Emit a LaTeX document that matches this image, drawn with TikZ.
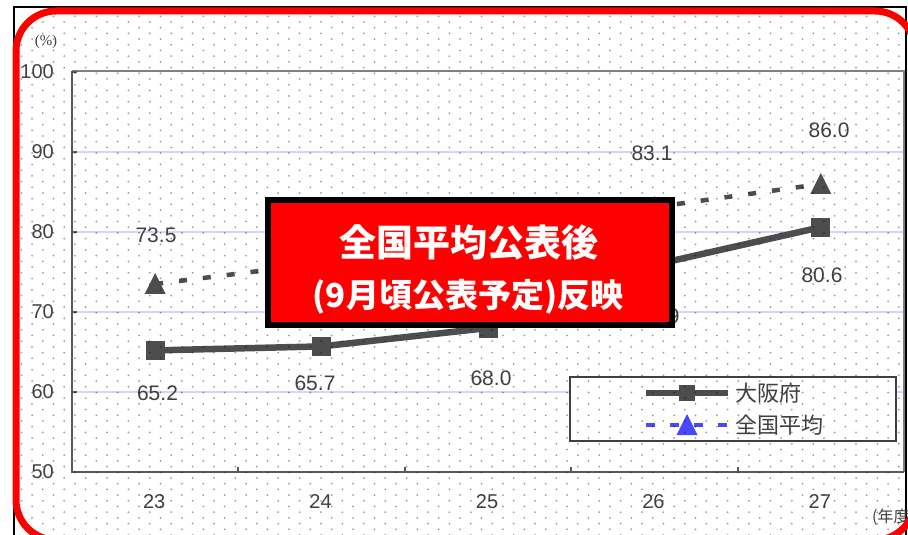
\documentclass[tikz,border=0pt]{standalone}
\usepackage{fontspec}
\setmainfont{Liberation Sans}
\newfontfamily\cjk{Noto Sans CJK JP}
\newfontfamily\serifnum{Liberation Serif}
\usetikzlibrary{patterns}
\pgfdeclarepatternformonly{chartdots}{\pgfqpoint{-1.2bp}{-1.2bp}}{\pgfqpoint{20.2bp}{10.2bp}}{\pgfqpoint{21.4bp}{11.4bp}}{%
  \pgfpathcircle{\pgfqpoint{0bp}{0bp}}{1bp}%
  \pgfpathcircle{\pgfqpoint{10.7bp}{5.7bp}}{1bp}%
  \pgfusepath{fill}}
\begin{document}
\begin{tikzpicture}[x=1bp,y=-1bp,
  gridline/.style={draw=gridblue, line width=1.2bp},
  axisline/.style={draw=axisgray, line width=2bp},
  axislabel/.style={text=txtgray, inner sep=0pt, font=\fontsize{20bp}{20bp}\selectfont},
  datalabel/.style={text=txtgray, inner sep=0pt, font=\fontsize{21bp}{21bp}\selectfont},
  osakaline/.style={draw=sergray, line width=6.5bp},
  nationline/.style={draw=sergray, line width=4.5bp, dash pattern=on 8bp off 16bp},
  sqmark/.style={fill=sergray, inner sep=0pt, minimum size=19bp},
  legendtext/.style={text=txtgray, anchor=west, inner sep=0pt, font=\cjk\fontsize{22bp}{22bp}\selectfont},
  boxtext/.style={text=white, inner sep=0pt}]
\definecolor{sergray}{HTML}{4D4D4D}
\definecolor{txtgray}{HTML}{404040}
\definecolor{axisgray}{HTML}{595959}
\definecolor{gridblue}{HTML}{D4D4FF}
\definecolor{legblue}{HTML}{4848FF}
\clip (0,0) rectangle (908,535);
\draw[black, line width=1.2bp] (14,7) rectangle (906,600);
\pgfmathsetmacro\colw{166.4}
\foreach \v in {60,70,80,90} \draw[gridline] (72,{472-(\v-50)*8}) -- (904,{472-(\v-50)*8});
\draw[draw=gray, line width=1.5bp] (72,71) -- (904,71) -- (904,472);
\draw[axisline] (72,71) -- (72,472) -- (904,472);
\foreach \v in {50,60,...,100} {
  \draw[axisline] (72,{472-(\v-50)*8}) -- (77,{472-(\v-50)*8});
  \node[axislabel, anchor=east] (tick\v) at (54,{472-(\v-50)*8}) {\v};
}
\foreach \i in {1,...,4} \draw[axisline] ({72+\colw*\i},472) -- ({72+\colw*\i},467);
\foreach \yr [count=\i from 0] in {23,...,27} \node[axislabel] (yr\yr) at ({72+\colw*(\i+0.5)-1},502) {\yr};
\node[text=txtgray, font=\serifnum\fontsize{15bp}{15bp}\selectfont] (unit) at (46,42) {(\%)};
\node[text=txtgray, anchor=west, inner sep=0pt, font=\cjk\fontsize{16bp}{16bp}\selectfont] (unitx) at (872,517) {(年度)};
\foreach \v [count=\i from 0] in {65.2,65.7,68.0,75.9,80.6} \coordinate (os\i) at ({72+\colw*(\i+0.5)},{472-(\v-50)*8});
\foreach \v [count=\i from 0] in {73.5,76.1,79.0,83.1,86.0} \coordinate (na\i) at ({72+\colw*(\i+0.5)},{472-(\v-50)*8});
\draw[nationline] (na0) -- (na1) -- (na2) -- (na3) -- (na4);
\foreach \i in {0,...,4} \fill[sergray] ([yshift=11bp]na\i) -- ([xshift=10.5bp,yshift=-10bp]na\i) -- ([xshift=-10.5bp,yshift=-10bp]na\i) -- cycle;
\draw[osakaline] (os0) -- (os1) -- (os2) -- (os3) -- (os4);
\foreach \i in {0,...,4} \node[sqmark] (osmark\i) at (os\i) {};
\foreach \x/\y/\t [count=\i] in {157.5/393/65.2, 315/383/65.7, 491/378/68.0, 659/316/75.9, 822/275/80.6, 156/235/73.5, 652/153/83.1, 829/130/86.0}
  \node[datalabel] (val\i) at (\x,\y) {\t};
\draw[draw=txtgray, fill=white, line width=1.5bp] (570,377) rectangle (896,441);
\draw[osakaline] (646,393) -- (728,393);
\node[sqmark, minimum size=16bp] (legsq) at (687,393) {};
\draw[legblue, line width=4.5bp, dash pattern=on 9bp off 15bp] (646,425) -- (728,425);
\fill[legblue] (687,414) -- (697.5,435) -- (676.5,435) -- cycle;
\node[legendtext] (leg1) at (735,393) {大阪府};
\node[legendtext] (leg2) at (735,425) {全国平均};
\begin{scope}
\clip[rounded corners=40bp] (16,11) rectangle (915,540);
\fill[pattern=chartdots, pattern color=black, fill opacity=0.4] (0,0) rectangle (908,535);
\end{scope}
\draw[red, line width=7bp, rounded corners=40bp] (16,11) rectangle (915,540);
\node[draw=black, fill=red, line width=6.5bp, minimum width=404bp, minimum height=125bp, inner sep=0pt] (notice) at (470,262.5) {};
\node[boxtext, font=\cjk\bfseries\fontsize{37bp}{37bp}\selectfont] (notice1) at (469,242) {全国平均公表後};
\node[boxtext, font=\cjk\bfseries\fontsize{33bp}{33bp}\selectfont] (notice2) at (468,297) {(9月頃公表予定)反映};
\end{tikzpicture}
\end{document}
